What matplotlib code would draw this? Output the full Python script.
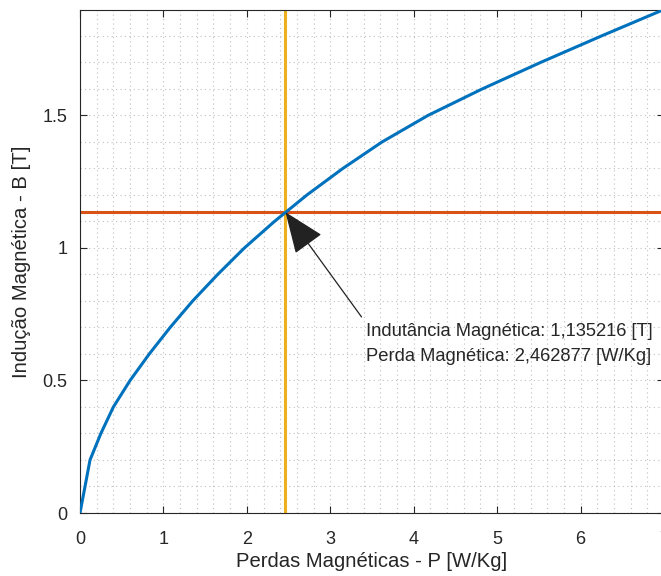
import numpy as np
import matplotlib
matplotlib.use('Agg')
import matplotlib.pyplot as plt
from matplotlib.ticker import MultipleLocator, FuncFormatter

plt.rcParams['font.family'] = ['Liberation Sans', 'DejaVu Sans']

# curva B x P
perdas = [0, 0.12, 0.25, 0.40, 0.60, 0.83, 1.08, 1.35, 1.65, 1.97,
          2.33, 2.72, 3.15, 3.62, 4.17, 4.82, 5.52, 6.25, 7.0]
inducao = [0, 0.2, 0.3, 0.4, 0.5, 0.6, 0.7, 0.8, 0.9, 1.0,
           1.1, 1.2, 1.3, 1.4, 1.5, 1.6, 1.7, 1.8, 1.9]

P_op = 2.462877
B_op = 1.135216
txt = 'Indutância Magnética: 1,135216 [T]\nPerda Magnética: 2,462877 [W/Kg]'

fig = plt.figure(figsize=(6.61, 5.76), dpi=100)
ax = fig.add_axes([80/661, 1 - 513/576, 584/661, 503/576])

ax.plot(perdas, inducao, color='#0072BD', lw=2.2, zorder=3)
ax.axhline(B_op, color='#D95319', lw=2.2, zorder=2)
ax.axvline(P_op, color='#EDB120', lw=2.2, zorder=2)

ax.annotate(txt, xy=(P_op, B_op), xytext=(366/661, 1 - 344/576),
            textcoords='figure fraction', fontsize=13.2, color='#262626',
            va='center', ha='left', linespacing=1.6,
            arrowprops=dict(arrowstyle='-|>,head_length=2.0,head_width=0.8',
                            color='#222222', lw=0.9, shrinkA=3, shrinkB=0,
                            relpos=(0, 1)),
            annotation_clip=False, zorder=5)

ax.set_xlim(0, 7)
ax.set_ylim(0, 1.898)
ax.xaxis.set_major_locator(MultipleLocator(1))
ax.yaxis.set_major_locator(MultipleLocator(0.5))
ax.xaxis.set_minor_locator(MultipleLocator(0.2))
ax.yaxis.set_minor_locator(MultipleLocator(0.1))
ax.yaxis.set_major_formatter(FuncFormatter(lambda v, p: '%g' % v))

ax.grid(True, which='both', color='#b0b0b0', ls=(0, (1, 3)), lw=0.8, alpha=0.8)
ax.set_axisbelow(True)
ax.tick_params(which='major', direction='in', length=5, width=0.8, pad=9,
               top=True, right=True, colors='#262626', labelsize=13)
ax.tick_params(axis='x', which='major', pad=13)
ax.tick_params(which='minor', length=0, top=True, right=True)
for s in ax.spines.values():
    s.set_color('#262626')
    s.set_linewidth(0.8)

ax.set_xlabel('Perdas Magnéticas - P [W/Kg]', fontsize=14.6, color='#262626', labelpad=3)
ax.set_ylabel('Indução Magnética - B [T]', fontsize=14.6, color='#262626', labelpad=8)

fig.savefig('out.png', dpi=100)
